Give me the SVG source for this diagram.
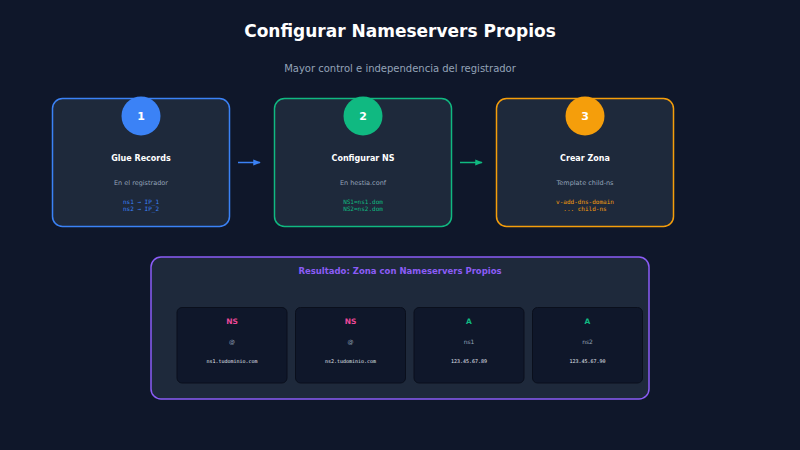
<svg xmlns="http://www.w3.org/2000/svg" width="800" height="450" viewBox="0 0 800 450">
<defs>
<style>
text{font-family:"DejaVu Sans",Verdana,sans-serif;text-anchor:middle}
.mono{font-family:"DejaVu Sans Mono","Liberation Mono",monospace}
.card{fill:#1e293b;stroke-width:1.5}
.num{fill:#fff;font-size:11px;font-weight:bold}
.ct{fill:#fff;font-size:8px;font-weight:bold}
.cs{fill:#94a3b8;font-size:6.5px}
.code{font-size:6px}
.rec{fill:#0f172a;stroke:#0a0f1c;stroke-width:1}
.rt{font-size:7.5px;font-weight:bold}
.rn{fill:#94a3b8;font-size:6px}
.rv{fill:#e2e8f0;font-size:5px}
</style>
<marker id="ab" viewBox="0 0 10 10" refX="9" refY="5" markerWidth="5" markerHeight="5" orient="auto"><path d="M0,1 L10,5 L0,9 z" fill="#3b82f6"/></marker>
<marker id="ag" viewBox="0 0 10 10" refX="9" refY="5" markerWidth="5" markerHeight="5" orient="auto"><path d="M0,1 L10,5 L0,9 z" fill="#10b981"/></marker>
</defs>
<rect width="800" height="450" fill="#0f172a"/>
<text x="400" y="37" fill="#fff" font-size="17" font-weight="bold">Configurar Nameservers Propios</text>
<text x="400" y="72" fill="#94a3b8" font-size="10">Mayor control e independencia del registrador</text>

<g id="step1">
<rect class="card" x="52.5" y="98.5" width="177" height="128" rx="10" stroke="#3b82f6"/>
<circle cx="141" cy="116" r="19.5" fill="#3b82f6"/>
<text class="num" x="141" y="120">1</text>
<text class="ct" x="141" y="161">Glue Records</text>
<text class="cs" x="141" y="185">En el registrador</text>
<text class="code mono" x="141" y="204" fill="#3b82f6">ns1 → IP_1</text>
<text class="code mono" x="141" y="211" fill="#3b82f6">ns2 → IP_2</text>
</g>
<g id="step2">
<rect class="card" x="274.5" y="98.5" width="177" height="128" rx="10" stroke="#10b981"/>
<circle cx="363" cy="116" r="19.5" fill="#10b981"/>
<text class="num" x="363" y="120">2</text>
<text class="ct" x="363" y="161">Configurar NS</text>
<text class="cs" x="363" y="185">En hestia.conf</text>
<text class="code mono" x="363" y="204" fill="#10b981">NS1=ns1.dom</text>
<text class="code mono" x="363" y="211" fill="#10b981">NS2=ns2.dom</text>
</g>
<g id="step3">
<rect class="card" x="496.5" y="98.5" width="177" height="128" rx="10" stroke="#f59e0b"/>
<circle cx="585" cy="116" r="19.5" fill="#f59e0b"/>
<text class="num" x="585" y="120">3</text>
<text class="ct" x="585" y="161">Crear Zona</text>
<text class="cs" x="585" y="185">Template child-ns</text>
<text class="code mono" x="585" y="204" fill="#f59e0b">v-add-dns-domain</text>
<text class="code mono" x="585" y="211" fill="#f59e0b">... child-ns</text>
</g>

<g id="connectors">
<line x1="238" y1="162.5" x2="260" y2="162.5" stroke="#3b82f6" stroke-width="1.5" marker-end="url(#ab)"/>
<line x1="460" y1="162.5" x2="482" y2="162.5" stroke="#10b981" stroke-width="1.5" marker-end="url(#ag)"/>
</g>

<g id="result">
<rect x="151" y="257" width="498" height="142" rx="10" fill="#1e293b" stroke="#8b5cf6" stroke-width="1.5"/>
<text x="400" y="274" fill="#8b5cf6" font-size="8.5" font-weight="bold">Resultado: Zona con Nameservers Propios</text>
</g>
<g id="rec1">
<rect class="rec" x="177" y="307.5" width="110" height="75.5" rx="5"/>
<text class="rt" x="232" y="324" fill="#ec4899">NS</text>
<text class="rn" x="232" y="344">@</text>
<text class="rv mono" x="232" y="363">ns1.tudominio.com</text>
</g>
<g id="rec2">
<rect class="rec" x="295.5" y="307.5" width="110" height="75.5" rx="5"/>
<text class="rt" x="350.5" y="324" fill="#ec4899">NS</text>
<text class="rn" x="350.5" y="344">@</text>
<text class="rv mono" x="350.5" y="363">ns2.tudominio.com</text>
</g>
<g id="rec3">
<rect class="rec" x="414" y="307.5" width="110" height="75.5" rx="5"/>
<text class="rt" x="469" y="324" fill="#10b981">A</text>
<text class="rn" x="469" y="344">ns1</text>
<text class="rv mono" x="469" y="363">123.45.67.89</text>
</g>
<g id="rec4">
<rect class="rec" x="532.5" y="307.5" width="110" height="75.5" rx="5"/>
<text class="rt" x="587.5" y="324" fill="#10b981">A</text>
<text class="rn" x="587.5" y="344">ns2</text>
<text class="rv mono" x="587.5" y="363">123.45.67.90</text>
</g>
</svg>
